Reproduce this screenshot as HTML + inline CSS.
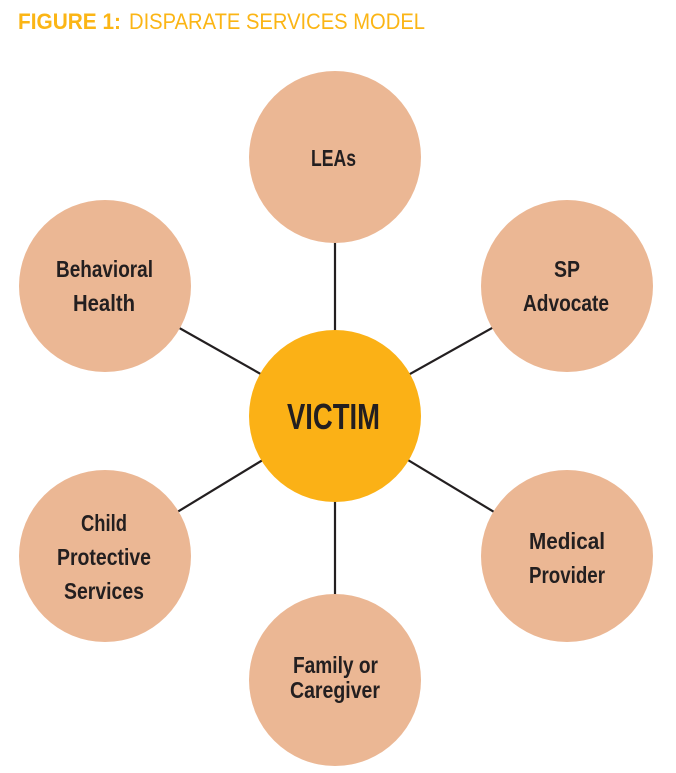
<!DOCTYPE html>
<html><head><style>
html,body{margin:0;padding:0;background:#fff;}
svg{display:block;}
text{font-family:"Liberation Sans",sans-serif;font-weight:bold;fill:#231F20;}
</style></head><body>
<svg width="676" height="773" viewBox="0 0 676 773">
<rect x="0" y="0" width="676" height="773" fill="#fff"/>
<text x="18" y="29" font-size="22" style="fill:#FBB515" textLength="103" lengthAdjust="spacingAndGlyphs">FIGURE 1:</text>
<text x="129" y="29" font-size="22" style="fill:#FBB515;font-weight:normal" textLength="296" lengthAdjust="spacingAndGlyphs">DISPARATE SERVICES MODEL</text>
<g stroke="#231F20" stroke-width="2.2">
<line x1="335" y1="416" x2="335" y2="157"/>
<line x1="335" y1="416" x2="335" y2="680"/>
<line x1="335" y1="416" x2="105" y2="286"/>
<line x1="335" y1="416" x2="567" y2="286"/>
<line x1="335" y1="416" x2="105" y2="556"/>
<line x1="335" y1="416" x2="567" y2="556"/>
</g>
<g fill="#EBB794">
<circle cx="335" cy="157" r="86"/>
<circle cx="105" cy="286" r="86"/>
<circle cx="567" cy="286" r="86"/>
<circle cx="105" cy="556" r="86"/>
<circle cx="567" cy="556" r="86"/>
<circle cx="335" cy="680" r="86"/>
</g>
<circle cx="335" cy="416" r="86" fill="#FBB116"/>
<g font-size="23">
<text x="311" y="166" textLength="45" lengthAdjust="spacingAndGlyphs">LEAs</text>
<text x="56" y="277" textLength="97" lengthAdjust="spacingAndGlyphs">Behavioral</text>
<text x="73" y="311" textLength="62" lengthAdjust="spacingAndGlyphs">Health</text>
<text x="554" y="277" textLength="26" lengthAdjust="spacingAndGlyphs">SP</text>
<text x="523" y="311" textLength="86" lengthAdjust="spacingAndGlyphs">Advocate</text>
<text x="81" y="531" textLength="46" lengthAdjust="spacingAndGlyphs">Child</text>
<text x="57" y="565" textLength="94" lengthAdjust="spacingAndGlyphs">Protective</text>
<text x="64" y="599" textLength="80" lengthAdjust="spacingAndGlyphs">Services</text>
<text x="529" y="549" textLength="76" lengthAdjust="spacingAndGlyphs">Medical</text>
<text x="529" y="583" textLength="76" lengthAdjust="spacingAndGlyphs">Provider</text>
<text x="293" y="673" textLength="85" lengthAdjust="spacingAndGlyphs">Family or</text>
<text x="290" y="698" textLength="90" lengthAdjust="spacingAndGlyphs">Caregiver</text>
</g>
<text x="287" y="429" font-size="36" textLength="93" lengthAdjust="spacingAndGlyphs">VICTIM</text>
</svg>
</body></html>
